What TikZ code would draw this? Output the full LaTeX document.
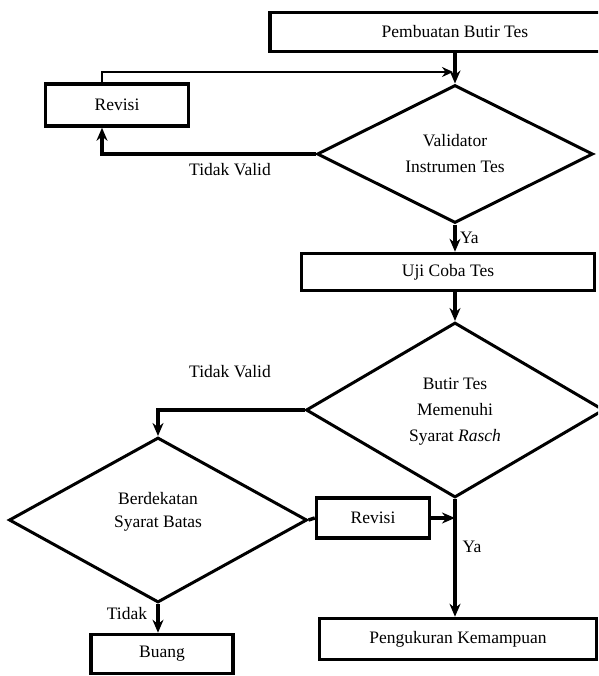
\documentclass[tikz,border=0pt]{standalone}
\usepackage{fontspec}
\setmainfont{Liberation Serif}
\usetikzlibrary{shapes.geometric, arrows.meta}

\tikzset{
    kotak/.style={draw, line width=3.5pt, inner sep=0pt, align=center},
    belah/.style={draw, diamond, aspect=2, line width=3pt, inner sep=0pt, align=center},
    panah/.style={line width=3.5pt, -{Stealth[length=13pt,width=11pt]}},
    panahtipis/.style={line width=2.2pt, -{Stealth[length=11pt,width=10pt]}},
    garis/.style={line width=3.5pt}
}

\begin{document}
\begin{tikzpicture}[x=1pt, y=-1pt, every node/.style={font=\fontsize{17.5}{26}\selectfont}]
        \clip (0,0) rectangle (598,676);
        % kotak proses
        \node[kotak, minimum width=370pt, minimum height=39pt] (buat) at (455,32) {Pembuatan Butir Tes};
        \node[kotak, minimum width=143pt, minimum height=42pt] (revisi1) at (117,105) {Revisi};
        \node[kotak, minimum width=293pt, minimum height=37pt] (uji) at (448,272) {Uji Coba Tes};
        \node[kotak, minimum width=113pt, minimum height=40pt] (revisi2) at (373,518) {Revisi};
        \node[kotak, minimum width=277pt, minimum height=41pt] (ukur) at (458,639) {Pengukuran Kemampuan};
        \node[kotak, minimum width=142pt, minimum height=39pt] (buang) at (162,654) {Buang};
        % keputusan
        \node[belah, minimum width=276pt, minimum height=138pt] (valid) at (455,154) {Validator\\Instrumen Tes};
        \node[belah, minimum width=298pt, minimum height=175pt,
              label={[align=center, yshift=-2pt]center:Butir Tes\\Memenuhi\\Syarat \textit{Rasch}}] (rasch) at (455,410) {};
        \node[belah, minimum width=298pt, minimum height=165pt,
              label={[align=center, yshift=8pt, font=\fontsize{17.5}{23}\selectfont]center:Berdekatan\\Syarat Batas}] (batas) at (158,520) {};
        \coordinate (masuk) at (453,72);
        % alur
        \draw[panah] (buat.south) -- (valid.north);
        \draw[panah] (valid.west) -| ([xshift=-15pt]revisi1.south);
        \draw[panahtipis] ([xshift=-15pt]revisi1.north) |- (masuk);
        \draw[panah] (valid.south) -- (valid.south |- uji.north) node[pos=0.5, right] {Ya};
        \draw[panah] (rasch.north |- uji.south) -- (rasch.north);
        \draw[panah] (rasch.west) -| (batas.north);
        \draw[panah] (rasch.south) -- (rasch.south |- ukur.north);
        \draw[garis] (batas.east) -- (revisi2.west);
        \draw[panah] (revisi2.east) -- (revisi2.east -| rasch.south);
        \draw[panah] (batas.south) -- (batas.south |- buang.north);
        % label
        \node (tv1) at (230,170) {Tidak Valid};
        \node (tv2) at (230,372) {Tidak Valid};
        \node (ya2) at (472,547) {Ya};
        \node (tdk) at (127,614) {Tidak};
    \end{tikzpicture}
\end{document}
